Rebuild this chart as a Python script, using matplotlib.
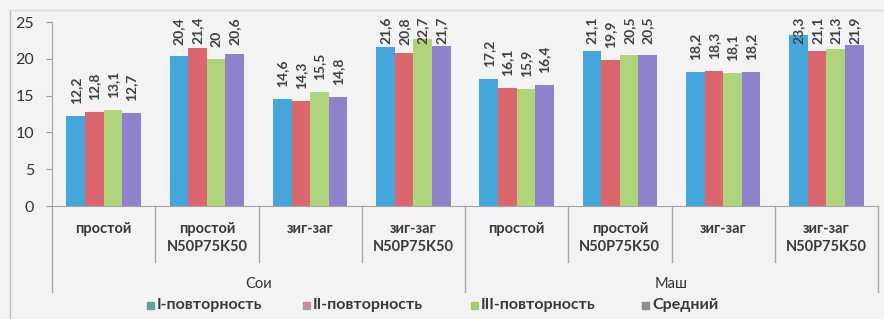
import matplotlib
matplotlib.use("Agg")
import matplotlib.pyplot as plt
from matplotlib.patches import Rectangle
import numpy as np

plt.rcParams['font.family'] = ['Lato', 'DejaVu Sans']

categories = ["простой", "простой\nN50P75K50", "зиг-заг", "зиг-заг\nN50P75K50",
              "простой", "простой\nN50P75K50", "зиг-заг", "зиг-заг\nN50P75K50"]
groups = ["Сои", "Маш"]
series_names = ["I-повторность", "II-повторность", "III-повторность", "Средний"]
rep1 = [12.2, 20.4, 14.6, 21.6, 17.2, 21.1, 18.2, 23.3]
rep2 = [12.8, 21.4, 14.3, 20.8, 16.1, 19.9, 18.3, 21.1]
rep3 = [13.1, 20.0, 15.5, 22.7, 15.9, 20.5, 18.1, 21.3]
mean = [12.7, 20.6, 14.8, 21.7, 16.4, 20.5, 18.2, 21.9]
labels1 = ["12,2", "20,4", "14,6", "21,6", "17,2", "21,1", "18,2", "23,3"]
labels2 = ["12,8", "21,4", "14,3", "20,8", "16,1", "19,9", "18,3", "21,1"]
labels3 = ["13,1", "20", "15,5", "22,7", "15,9", "20,5", "18,1", "21,3"]
labels4 = ["12,7", "20,6", "14,8", "21,7", "16,4", "20,5", "18,2", "21,9"]
yticks = [0, 5, 10, 15, 20, 25]

colors = ["#45A6DB", "#D9676D", "#B0D47C", "#8E82CC"]
legend_colors = ["#5FA39F", "#C78F9C", "#A6CC6E", "#8E8E8E"]  # faded in the scan
bg = "#F3F3F3"

W, H = 884, 319
fig = plt.figure(figsize=(W / 100, H / 100), dpi=100, facecolor=bg)

# chart border (scan)
fig.add_artist(plt.Line2D([10 / W, 10 / W], [0, 1 - 10 / H], transform=fig.transFigure,
                          color="#BDBDBD", lw=1))
fig.add_artist(plt.Line2D([10 / W, 1], [1 - 10 / H, 1 - 10 / H], transform=fig.transFigure,
                          color="#DADADA", lw=1))

x0, x1 = 52, 878
y0, y1 = 206, 22
ax = fig.add_axes([x0 / W, 1 - y0 / H, (x1 - x0) / W, (y0 - y1) / H])
ax.set_facecolor(bg)
ax.set_xlim(-0.5, len(categories) - 0.5)
ax.set_ylim(0, 25)
px_per_unit = (y0 - y1) / 25.0

x = np.arange(len(categories))
w = 0.18
all_series = [rep1, rep2, rep3, mean]
all_labels = [labels1, labels2, labels3, labels4]
texts = []
for i, (vals, labs) in enumerate(zip(all_series, all_labels)):
    pos = x + (i - 1.5) * w
    ax.bar(pos, vals, width=w, color=colors[i], label=series_names[i], zorder=2)
    for xp, v, t in zip(pos, vals, labs):
        tx = ax.text(xp, v + 12 / px_per_unit, t, rotation=90, ha="center", va="bottom",
                     fontsize=10, fontweight="bold", color="#404040", clip_on=False)
        texts.append(tx)

ax.set_yticks(yticks)
ax.set_yticklabels([str(t) for t in yticks], fontsize=11.5, color="#333333")
ax.tick_params(axis="y", length=4, color="#9A9A9A", pad=9)
ax.set_xticks([])
for s in ["top", "right"]:
    ax.spines[s].set_visible(False)
ax.spines["left"].set_color("#A8A8A8")
ax.spines["bottom"].set_color("#A8A8A8")

# multi-level category axis
trans = ax.get_xaxis_transform()
short_y = -(262 - y0) / (y0 - y1)
long_y = -(292 - y0) / (y0 - y1)
for b in np.arange(-0.5, len(categories), 1.0):
    yy = long_y if b in (-0.5, 3.5, len(categories) - 0.5) else short_y
    ax.plot([b, b], [0, yy], transform=trans, color="#A8A8A8", lw=1, clip_on=False)
for xi, c in zip(x, categories):
    ax.text(xi, -(222 - y0) / (y0 - y1), c, transform=trans, ha="center", va="top",
            fontsize=10.5, fontweight="bold", color="#3A3A3A", linespacing=1.4)
for gi, g in enumerate(groups):
    ax.text(gi * 4 + 1.5, -(284 - y0) / (y0 - y1), g, transform=trans, ha="center",
            va="center", fontsize=10.5, color="#333333")

# legend (manual placement to match layout)
leg_x = [147, 303, 471, 642]
leg_y = 305
for lx, c, n in zip(leg_x, legend_colors, series_names):
    fig.add_artist(Rectangle((lx / W, 1 - (leg_y + 3.5) / H), 7 / W, 7 / H,
                             transform=fig.transFigure, color=c))
    fig.text((lx + 10) / W, 1 - leg_y / H, n, ha="left", va="center", fontsize=11.5,
             fontweight="bold", color="#3A3A3A")

# keep data labels inside the chart area (as Excel does)
fig.canvas.draw()
limit = H - 17
for tx in texts:
    bb = tx.get_window_extent()
    if bb.y1 > limit:
        xp, yp = tx.get_position()
        tx.set_position((xp, yp - (bb.y1 - limit) / px_per_unit))

fig.savefig("out.png", dpi=100, facecolor=bg)
